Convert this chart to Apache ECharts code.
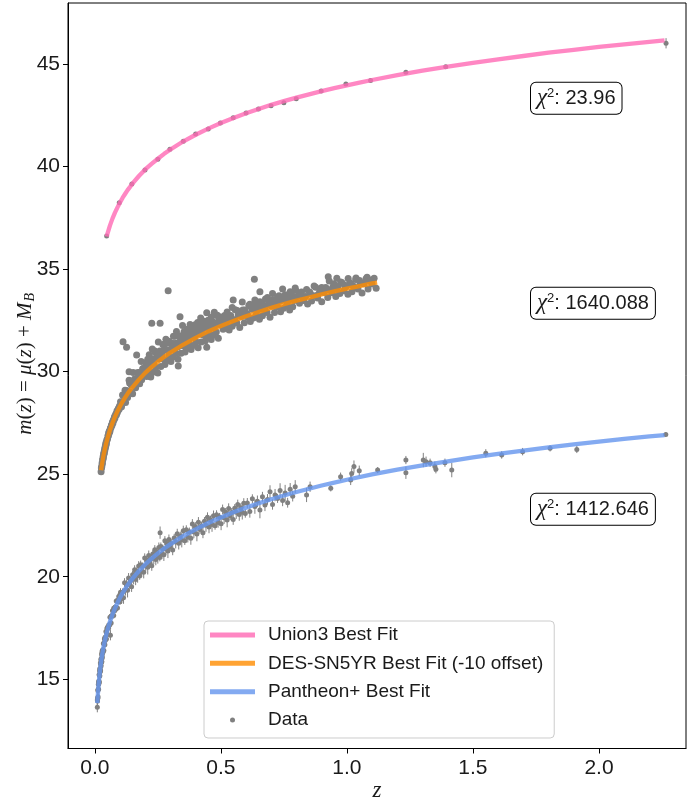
<!DOCTYPE html>
<html><head><meta charset="utf-8">
<script src="https://cdn.jsdelivr.net/npm/echarts@6/dist/echarts.min.js"></script>
<style>html,body{margin:0;padding:0;background:#fff}#c{width:688px;height:799px}</style>
</head><body><div id="c"></div><script>
const xTicks = [0, 0.5, 1, 1.5, 2];
const yTicks = [15, 20, 25, 30, 35, 40, 45];
const fitNames = ['Union3 Best Fit', 'DES-SN5YR Best Fit (-10 offset)', 'Pantheon+ Best Fit'];
const chiValues = ['23.96', '1640.088', '1412.646'];

// Union3 binned points [z, m, err]
const union3Points = [[0.047,36.61,0.04],[0.097,38.24,0.04],[0.147,39.15,0.04],[0.199,39.83,0.04],[0.25,40.35,0.04],[0.298,40.84,0.04],[0.351,41.23,0.04],[0.400,41.59,0.04],[0.450,41.83,0.04],[0.498,42.12,0.04],[0.549,42.38,0.04],[0.600,42.61,0.05],[0.649,42.81,0.05],[0.699,42.97,0.05],[0.750,43.11,0.05],[0.799,43.31,0.05],[0.898,43.68,0.06],[0.996,44.02,0.06],[1.094,44.19,0.07],[1.234,44.60,0.07],[1.392,44.87,0.08],[2.266,46.01,0.25]];
const union3Fit = [[0.047,36.59],[0.05,36.72],[0.06,37.12],[0.07,37.46],[0.08,37.75],[0.09,38.01],[0.1,38.25],[0.11,38.47],[0.12,38.66],[0.13,38.85],[0.14,39.01],[0.15,39.18],[0.175,39.54],[0.2,39.86],[0.225,40.13],[0.25,40.38],[0.275,40.62],[0.3,40.83],[0.35,41.22],[0.4,41.55],[0.45,41.85],[0.5,42.12],[0.55,42.37],[0.6,42.60],[0.65,42.81],[0.7,43.01],[0.75,43.19],[0.8,43.36],[0.85,43.52],[0.9,43.68],[0.95,43.82],[1.0,43.96],[1.05,44.09],[1.1,44.22],[1.2,44.46],[1.3,44.68],[1.4,44.87],[1.5,45.06],[1.6,45.23],[1.7,45.39],[1.8,45.55],[1.9,45.69],[2.0,45.83],[2.1,45.96],[2.2,46.08],[2.26,46.15]];

// DES-SN5YR points (-10 offset) [z, m]
const desPoints = [[0.025,25.12],[0.026,25.30],[0.027,25.33],[0.028,25.40],[0.029,25.55],[0.030,25.52],[0.031,25.70],[0.032,25.70],[0.033,25.85],[0.034,25.80],[0.035,25.98],[0.036,25.96],[0.037,26.10],[0.038,26.05],[0.039,26.22],[0.040,26.18],[0.041,26.33],[0.042,26.30],[0.043,26.45],[0.044,26.40],[0.045,26.56],[0.046,26.50],[0.048,26.68],[0.050,26.70],[0.052,26.86],[0.054,26.88],[0.055,27.02],[0.057,27.00],[0.058,27.12],[0.060,27.10],[0.062,27.25],[0.064,27.26],[0.066,27.40],[0.068,27.38],[0.070,27.55],[0.072,27.50],[0.074,27.66],[0.076,27.64],[0.078,27.80],[0.080,27.74],[0.082,27.88],[0.084,27.95],[0.086,27.90],[0.088,28.08],[0.090,28.02],[0.092,28.16],[0.094,28.22],[0.096,28.15],[0.098,28.32],[0.100,28.25],
[0.102,28.53],[0.106,28.29],[0.110,28.86],[0.114,28.55],[0.118,28.78],[0.122,28.50],[0.126,29.08],[0.130,28.74],[0.134,29.02],[0.138,29.45],[0.142,29.00],[0.146,29.34],[0.150,28.92],[0.154,29.37],[0.158,29.64],[0.162,29.21],[0.166,29.60],[0.170,29.51],[0.174,29.96],[0.178,29.41],[0.182,29.88],[0.186,29.61],[0.190,30.14],[0.194,29.80],[0.198,30.00],
[0.202,30.26],[0.206,29.76],[0.210,30.60],[0.214,30.00],[0.218,30.29],[0.222,29.74],[0.226,30.63],[0.230,29.97],[0.234,30.36],[0.238,31.01],[0.242,30.20],[0.246,30.69],[0.250,29.93],[0.254,30.62],[0.258,31.01],[0.262,30.25],[0.266,30.83],[0.270,30.62],[0.274,31.31],[0.278,30.35],[0.282,31.08],[0.286,30.56],[0.290,31.40],[0.294,30.78],[0.298,31.06],[0.302,30.50],[0.306,31.38],[0.310,30.71],[0.314,31.09],[0.318,31.72],[0.322,30.90],[0.326,31.38],[0.330,30.61],[0.334,31.29],[0.338,31.67],[0.342,30.90],[0.346,31.48],[0.350,31.26],[0.354,31.94],[0.358,30.96],[0.362,31.69],[0.366,31.17],[0.370,32.00],[0.374,31.37],[0.378,31.65],[0.382,31.08],[0.386,31.95],[0.390,31.28],[0.394,31.66],[0.398,32.29],[0.402,31.46],[0.406,31.94],[0.410,31.16],[0.414,31.84],[0.418,32.21],[0.422,31.44],[0.426,32.01],[0.430,31.79],[0.434,32.46],[0.438,31.49],[0.442,32.21],[0.446,31.69],[0.450,32.51],[0.454,31.88],[0.458,32.15],[0.462,31.57],[0.466,32.45],[0.470,31.77],[0.474,32.14],[0.478,32.76],[0.482,31.93],[0.486,32.40],[0.490,31.63],[0.494,32.30],[0.498,32.67],
[0.503,32.48],[0.509,32.07],[0.515,32.74],[0.521,32.25],[0.527,32.48],[0.533,32.03],[0.539,32.74],[0.545,32.21],[0.551,32.52],[0.557,33.02],[0.563,32.37],[0.569,32.76],[0.575,32.15],[0.581,32.69],[0.587,33.00],[0.593,32.39],[0.599,32.86],[0.605,32.68],[0.611,33.23],[0.617,32.45],[0.623,33.04],[0.629,32.62],[0.635,33.29],[0.641,32.79],[0.647,33.02],[0.653,32.56],[0.659,33.27],[0.665,32.73],[0.671,33.03],[0.677,33.54],[0.683,32.88],[0.689,33.27],[0.695,32.65],[0.701,33.19],[0.707,33.50],[0.713,32.88],[0.719,33.34],[0.725,33.16],[0.731,33.70],[0.737,32.92],[0.743,33.50],[0.749,33.09],[0.755,33.75],[0.761,33.25],[0.767,33.47],[0.773,33.01],[0.779,33.71],[0.785,33.17],[0.791,33.47],[0.797,33.97],
[0.804,33.67],[0.812,33.34],[0.820,33.88],[0.828,33.47],[0.836,33.67],[0.844,33.30],[0.852,33.88],[0.860,33.44],[0.868,33.70],[0.876,34.11],[0.884,33.59],[0.892,33.90],[0.900,33.41],[0.908,33.86],[0.916,34.10],[0.924,33.61],[0.932,33.99],[0.940,33.85],[0.948,34.29],[0.956,33.67],[0.964,34.15],[0.972,33.81],[0.980,34.35],[0.988,33.95],[0.996,34.14],[1.004,33.77],[1.012,34.34],[1.020,33.90],[1.028,34.15],[1.036,34.56],[1.044,34.03],[1.052,34.34],[1.060,33.84],[1.068,34.29],[1.076,34.53],[1.084,34.03],[1.092,34.41],[1.100,34.27],[1.108,34.55],[1.116,34.07],
[0.120,29.09],[0.128,29.00],[0.136,29.58],[0.144,29.39],[0.152,29.96],[0.160,29.43],[0.168,29.95],[0.176,29.82],[0.184,30.49],[0.192,30.15],[0.200,30.02],
[0.204,30.43],[0.210,30.20],[0.216,30.82],[0.222,30.49],[0.228,31.10],[0.234,30.36],[0.240,30.93],[0.246,30.69],[0.252,31.45],[0.258,30.96],[0.264,30.71],[0.270,31.32],[0.276,31.08],[0.282,31.58],[0.288,31.03],[0.294,31.48],[0.300,31.38],[0.306,31.13],[0.312,31.72],[0.318,31.37],[0.324,31.96],[0.330,31.21],[0.336,31.75],[0.342,31.50],[0.348,32.25],[0.354,31.74],[0.360,31.48],[0.366,32.07],[0.372,31.81],[0.378,32.30],[0.384,31.74],[0.390,32.18],[0.396,32.07],[0.402,31.81],[0.408,32.40],[0.414,32.04],[0.420,32.62],[0.426,31.86],[0.432,32.40],[0.438,32.14],[0.444,32.87],[0.450,32.36],[0.456,32.09],[0.462,32.67],[0.468,32.41],[0.474,32.89],[0.480,32.32],[0.486,32.75],[0.492,32.63],[0.498,32.37],
[0.505,32.61],[0.515,32.42],[0.525,32.91],[0.535,32.64],[0.545,33.13],[0.555,32.53],[0.565,32.98],[0.575,32.79],[0.585,33.39],[0.595,33.00],[0.605,32.80],[0.615,33.28],[0.625,33.09],[0.635,33.49],[0.645,33.05],[0.655,33.41],[0.665,33.33],[0.675,33.13],[0.685,33.61],[0.695,33.33],[0.705,33.81],[0.715,33.20],[0.725,33.64],[0.735,33.44],[0.745,34.03],[0.755,33.63],[0.765,33.42],[0.775,33.90],[0.785,33.69],[0.795,34.08],
[0.810,33.76],[0.825,33.63],[0.840,34.00],[0.855,33.81],[0.870,34.18],[0.885,33.75],[0.900,34.10],[0.915,33.96],[0.930,34.42],[0.945,34.14],[0.960,34.00],[0.975,34.37],[0.990,34.23],[1.005,34.54],[1.020,34.22],[1.035,34.49],[1.050,34.44],[1.065,34.30],[1.080,34.60],[1.095,34.47],
[0.112,31.46],[0.126,31.19],[0.136,30.00],[0.166,30.81],[0.226,32.36],[0.259,32.36],[0.291,33.95],[0.338,32.68],[0.331,30.28],[0.444,31.19],[0.549,33.49],[0.633,34.50],[0.655,33.90],[0.926,34.63],[0.960,34.55]];
const desFit = [[0.025,25.19],[0.027,25.36],[0.03,25.59],[0.035,25.94],[0.04,26.23],[0.045,26.50],[0.05,26.73],[0.06,27.15],[0.07,27.50],[0.08,27.80],[0.09,28.07],[0.1,28.31],[0.11,28.53],[0.12,28.73],[0.13,28.92],[0.14,29.09],[0.15,29.25],[0.175,29.61],[0.2,29.94],[0.225,30.22],[0.25,30.48],[0.275,30.72],[0.3,30.93],[0.35,31.31],[0.4,31.65],[0.45,31.96],[0.5,32.23],[0.55,32.47],[0.6,32.70],[0.65,32.91],[0.7,33.11],[0.75,33.29],[0.8,33.46],[0.85,33.61],[0.9,33.77],[0.95,33.91],[1.0,34.05],[1.05,34.17],[1.1,34.30],[1.12,34.34]];

// Pantheon+ points [z, m, err]
const pantheonPoints = [[0.010,13.99,0.25],[0.010,13.64,0.25],[0.011,14.09,0.20],[0.011,13.94,0.20],[0.012,14.45,0.20],[0.012,14.08,0.20],[0.013,14.50,0.18],[0.013,14.15,0.20],[0.014,14.75,0.18],[0.014,14.52,0.18],[0.015,14.87,0.18],[0.015,14.52,0.18],[0.016,14.92,0.18],[0.016,14.77,0.18],[0.017,15.22,0.18],[0.017,14.85,0.18],[0.018,15.22,0.17],[0.018,14.87,0.17],[0.019,15.42,0.17],[0.019,15.19,0.17],[0.020,15.51,0.17],[0.020,15.16,0.17],[0.021,15.51,0.17],[0.021,15.36,0.17],[0.022,15.79,0.16],[0.022,15.42,0.16],[0.023,15.77,0.16],[0.023,15.42,0.16],[0.024,15.94,0.16],[0.024,15.71,0.16],[0.025,16.00,0.16],[0.025,15.65,0.16],[0.026,15.99,0.16],[0.026,15.84,0.16],[0.027,16.24,0.16],[0.027,15.87,0.16],[0.028,16.20,0.16],[0.028,15.85,0.16],[0.029,16.36,0.16],[0.029,16.13,0.16],[0.030,16.40,0.15],[0.030,16.05,0.15],[0.032,16.44,0.15],[0.032,16.29,0.15],[0.034,16.75,0.15],[0.034,16.38,0.15],[0.036,16.76,0.15],[0.036,16.41,0.15],[0.038,16.96,0.15],[0.038,16.73,0.15],[0.040,17.04,0.15],[0.040,16.69,0.15],[0.042,17.05,0.15],[0.042,16.90,0.15],[0.044,17.33,0.15],[0.044,16.96,0.15],[0.046,17.31,0.15],[0.046,16.96,0.15],[0.048,17.48,0.15],[0.048,17.25,0.15],[0.050,17.54,0.15],[0.050,17.19,0.15],[0.055,17.65,0.15],[0.055,17.50,0.15],[0.060,18.03,0.15],[0.060,17.66,0.15],[0.062,17.15,0.25],[0.065,18.09,0.15],[0.065,17.74,0.15],[0.070,18.34,0.15],[0.070,18.11,0.15],[0.075,18.46,0.15],[0.075,18.11,0.15],[0.080,18.51,0.15],[0.080,18.36,0.15],[0.085,18.82,0.15],[0.085,18.45,0.15],[0.090,18.83,0.15],[0.090,18.48,0.15],[0.095,19.04,0.15],[0.095,18.81,0.15],[0.100,19.13,0.15],[0.100,18.78,0.15],
[0.102,19.24,0.20],[0.106,18.93,0.25],[0.110,19.25,0.18],[0.114,18.98,0.30],[0.118,19.71,0.22],[0.122,19.36,0.28],[0.126,19.66,0.20],[0.130,19.34,0.35],[0.134,19.94,0.24],[0.138,19.61,0.19],[0.142,19.81,0.20],[0.146,19.51,0.25],[0.150,20.10,0.18],[0.154,19.93,0.30],[0.158,20.34,0.22],[0.162,19.87,0.28],[0.166,20.25,0.20],[0.170,20.06,0.35],[0.174,20.52,0.24],[0.178,20.04,0.19],[0.182,20.59,0.20],[0.186,20.24,0.25],[0.190,20.52,0.18],[0.194,20.22,0.30],[0.198,20.92,0.22],[0.202,20.54,0.28],[0.206,20.82,0.20],[0.210,20.46,0.35],[0.214,21.04,0.24],[0.218,20.68,0.19],[0.222,20.87,0.20],[0.226,20.54,0.25],[0.230,21.11,0.18],[0.234,20.92,0.30],[0.238,21.32,0.22],[0.242,20.84,0.28],[0.246,21.20,0.20],[0.250,20.99,0.35],[0.254,21.43,0.24],[0.258,20.94,0.19],[0.259,22.15,0.30],[0.262,21.47,0.20],[0.266,21.11,0.25],[0.270,21.38,0.18],[0.274,21.07,0.30],[0.278,21.76,0.22],[0.282,21.36,0.28],[0.286,21.62,0.20],[0.290,21.26,0.35],[0.294,21.82,0.24],[0.298,21.45,0.19],
[0.303,21.63,0.22],[0.309,21.31,0.26],[0.315,21.89,0.20],[0.321,21.70,0.32],[0.327,22.10,0.24],[0.333,21.63,0.30],[0.339,21.99,0.21],[0.345,21.79,0.36],[0.351,22.24,0.25],[0.357,21.75,0.20],[0.363,22.29,0.22],[0.369,21.93,0.26],[0.375,22.20,0.20],[0.381,21.88,0.32],[0.387,22.57,0.24],[0.393,22.18,0.30],[0.399,22.45,0.21],[0.405,22.09,0.36],[0.411,22.66,0.25],[0.417,22.30,0.20],[0.423,22.47,0.22],[0.429,22.14,0.26],[0.435,22.71,0.20],[0.441,22.51,0.32],[0.447,22.90,0.24],[0.453,22.42,0.30],[0.459,22.77,0.21],[0.465,22.55,0.36],[0.471,22.98,0.25],[0.477,22.49,0.20],[0.483,23.02,0.22],[0.489,22.65,0.26],[0.495,22.91,0.20],[0.501,22.59,0.32],[0.507,23.28,0.24],[0.513,22.88,0.30],[0.519,23.14,0.21],[0.525,22.77,0.36],[0.531,23.33,0.25],[0.537,22.96,0.20],[0.543,23.13,0.22],[0.549,22.79,0.26],[0.555,23.34,0.20],[0.561,23.14,0.32],[0.567,23.52,0.24],[0.573,23.03,0.30],[0.579,23.37,0.21],[0.585,23.15,0.36],[0.591,23.58,0.25],[0.597,23.08,0.20],
[0.605,23.59,0.25],[0.615,23.18,0.30],[0.625,23.80,0.22],[0.635,23.42,0.35],[0.645,23.68,0.28],[0.655,23.25,0.40],[0.665,23.90,0.24],[0.675,23.50,0.30],[0.685,23.77,0.26],[0.695,24.14,0.32],[0.705,23.52,0.25],[0.715,23.98,0.30],[0.725,23.82,0.22],[0.735,24.21,0.35],[0.745,23.72,0.28],[0.755,24.08,0.40],[0.765,23.61,0.24],[0.775,24.27,0.30],[0.785,23.93,0.26],[0.795,24.39,0.32],
[0.840,23.99,0.35],[0.854,24.39,0.25],[0.936,24.31,0.15],[0.975,24.88,0.20],[1.015,24.72,0.25],[1.019,25.04,0.25],[1.028,25.37,0.30],[1.049,25.17,0.25],[1.122,25.20,0.15],[1.234,25.69,0.20],[1.234,25.07,0.30],[1.303,25.69,0.35],[1.314,25.61,0.25],[1.330,25.56,0.20],[1.349,25.37,0.25],[1.353,25.24,0.20],[1.389,25.56,0.20],[1.416,25.20,0.35],[1.551,26.02,0.20],[1.614,25.94,0.18],[1.697,26.10,0.18],[1.806,26.26,0.15],[1.912,26.21,0.18],[2.265,26.93,0.12]];
const pantheonFit = [[0.01,13.84],[0.012,14.23],[0.014,14.57],[0.016,14.87],[0.018,15.12],[0.02,15.36],[0.023,15.67],[0.026,15.94],[0.03,16.25],[0.035,16.60],[0.04,16.89],[0.045,17.16],[0.05,17.39],[0.06,17.81],[0.07,18.16],[0.08,18.46],[0.09,18.73],[0.1,18.98],[0.11,19.20],[0.12,19.40],[0.13,19.59],[0.14,19.76],[0.15,19.92],[0.175,20.28],[0.2,20.60],[0.225,20.88],[0.25,21.14],[0.275,21.38],[0.3,21.59],[0.35,21.98],[0.4,22.31],[0.45,22.62],[0.5,22.89],[0.55,23.14],[0.6,23.37],[0.65,23.58],[0.7,23.78],[0.75,23.96],[0.8,24.13],[0.85,24.29],[0.9,24.45],[0.95,24.59],[1.0,24.73],[1.1,24.99],[1.2,25.22],[1.3,25.43],[1.4,25.63],[1.5,25.82],[1.6,25.99],[1.7,26.15],[1.8,26.31],[1.9,26.45],[2.0,26.59],[2.1,26.72],[2.2,26.84],[2.26,26.91]];

const SANS = 'Liberation Sans';
const SERIF = 'Liberation Serif';
const TXT = '#1a1a1a';
const GRAY = '#808080';
const lineColors = ['#ff69b4', '#ff8c00', '#6495ed'];
const legendColors = ['#ff87c3', '#ffa333', '#83aaf1'];

function errSeries(data) {
  return {
    type: 'custom', name: 'errorbars', silent: true, z: 1, clip: true,
    encode: { x: 0, y: 1 },
    renderItem: function (params, api) {
      const x = api.value(0), y = api.value(1), e = api.value(2);
      const a = api.coord([x, y - e]), b = api.coord([x, y + e]);
      return { type: 'line', shape: { x1: a[0], y1: a[1], x2: b[0], y2: b[1] },
        style: { stroke: GRAY, lineWidth: 1 } };
    },
    data: data
  };
}
function scatterSeries(data, size) {
  return { type: 'scatter', name: 'Data', data: data.map(p => [p[0], p[1]]), symbolSize: size,
    itemStyle: { color: GRAY, opacity: 1 }, z: 2, silent: true };
}
function fitSeries(name, data, color) {
  return { type: 'line', name: name, data: data, smooth: false, showSymbol: false,
    lineStyle: { color: color, width: 4.3, opacity: 0.8, cap: 'butt', join: 'round' }, itemStyle: { color: color }, z: 3, silent: true };
}

const chart = echarts.init(document.getElementById('c'), null, { renderer: 'canvas' });
const chiTops = [81.7, 286.7, 492.7];
chart.setOption({
  animation: false,
  backgroundColor: '#fff',
  grid: { left: 68, top: 3, width: 618, height: 745.5, show: true, borderColor: '#000', borderWidth: 1,
    backgroundColor: 'transparent', containLabel: false, outerBoundsMode: 'none' },
  xAxis: {
    type: 'value', min: -0.1063, max: 2.3451,
    axisLine: { show: true, onZero: false, lineStyle: { color: '#000', width: 1 } },
    axisTick: { show: true, customValues: xTicks, length: 5, lineStyle: { color: '#000', width: 1 } },
    axisLabel: { customValues: xTicks, formatter: v => v.toFixed(1), fontSize: 21, fontFamily: SANS, color: TXT, margin: 9 },
    splitLine: { show: false },
    name: 'z', nameLocation: 'middle', nameGap: 31, nameMoveOverlap: false,
    nameTextStyle: { fontFamily: SERIF, fontStyle: 'italic', fontSize: 23, color: TXT }
  },
  yAxis: {
    type: 'value', min: 11.626, max: 47.974,
    axisLine: { show: true, onZero: false, lineStyle: { color: '#000', width: 1 } },
    axisTick: { show: true, customValues: yTicks, length: 5, lineStyle: { color: '#000', width: 1 } },
    axisLabel: { customValues: yTicks, fontSize: 21, fontFamily: SANS, color: TXT, margin: 8 },
    splitLine: { show: false },
    name: '{i|m}{n|(}{i|z}{n|) = }{i|μ}{n|(}{i|z}{n|) + }{i|M}{s|B}',
    nameLocation: 'middle', nameGap: 31, nameRotate: 90, nameMoveOverlap: false,
    nameTextStyle: {
      color: TXT, padding: [0, 0, 0, 24],
      rich: {
        i: { fontFamily: SERIF, fontStyle: 'italic', fontSize: 21, color: TXT, lineHeight: 24 },
        n: { fontFamily: SERIF, fontSize: 21, color: TXT, lineHeight: 24 },
        s: { fontFamily: SERIF, fontStyle: 'italic', fontSize: 14, color: TXT, lineHeight: 24, verticalAlign: 'bottom', padding: [0, 0, 0, 1] }
      }
    }
  },
  legend: {
    orient: 'vertical', left: 204, top: 621,
    padding: [4, 11, 8, 6], itemGap: 8.33, itemWidth: 45, itemHeight: 5,
    backgroundColor: '#fff', borderColor: '#cccccc', borderWidth: 1, borderRadius: 4,
    textStyle: { fontFamily: SANS, fontSize: 19, color: TXT, lineHeight: 20, padding: [0, 0, 0, 8] },
    selectedMode: false,
    data: [
      { name: fitNames[0], icon: 'rect', itemStyle: { color: legendColors[0] } },
      { name: fitNames[1], icon: 'rect', itemStyle: { color: legendColors[1] } },
      { name: fitNames[2], icon: 'rect', itemStyle: { color: legendColors[2] } },
      { name: 'Data', icon: 'circle', itemStyle: { color: GRAY } }
    ],
    z: 10
  },
  graphic: chiValues.map((v, i) => ({
    type: 'text', left: 530, top: chiTops[i], z: 100,
    style: {
      text: '{c|χ}{p|2}{t|: ' + v + '}',
      rich: {
        c: { fontFamily: SERIF, fontStyle: 'italic', fontSize: 23, fill: TXT, lineHeight: 23 },
        p: { fontFamily: SANS, fontSize: 13, fill: TXT, verticalAlign: 'top', lineHeight: 23 },
        t: { fontFamily: SANS, fontSize: 20, fill: TXT, lineHeight: 23 }
      },
      backgroundColor: '#fff', borderColor: '#000', borderWidth: 1, borderRadius: 5,
      padding: [4, 6, 4, 6]
    }
  })),
  series: [
    errSeries(union3Points), scatterSeries(union3Points, 5),
    scatterSeries(desPoints, 7),
    errSeries(pantheonPoints), scatterSeries(pantheonPoints, 5),
    fitSeries(fitNames[0], union3Fit, lineColors[0]),
    fitSeries(fitNames[1], desFit, lineColors[1]),
    fitSeries(fitNames[2], pantheonFit, lineColors[2])
  ]
});
</script></body></html>
